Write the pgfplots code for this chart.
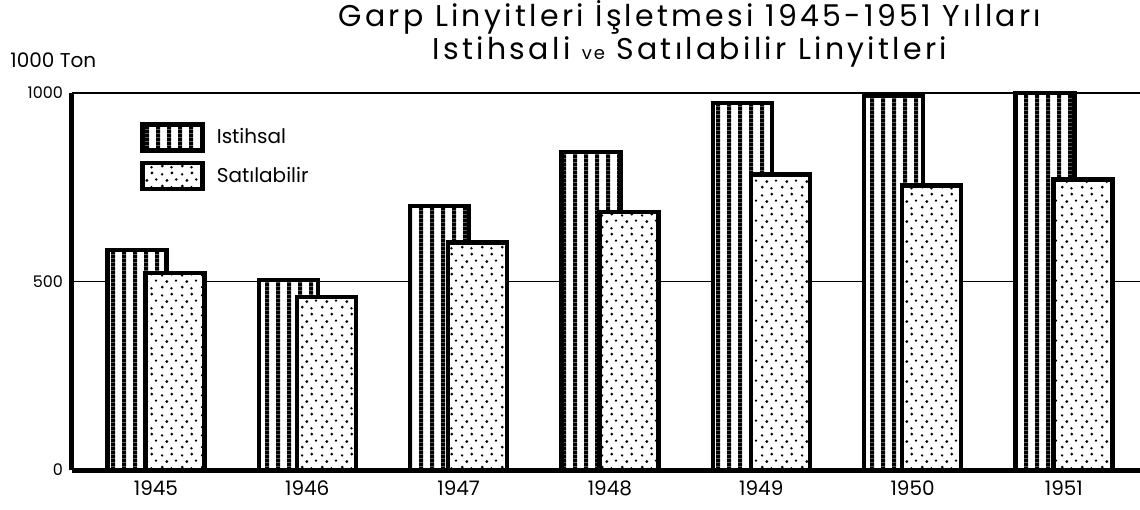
\documentclass[border=0pt]{standalone}
\usepackage{fontspec}
\setmainfont{Poppins}
\usepackage{pgfplots}
\pgfplotsset{compat=1.18}
\usetikzlibrary{patterns.meta}

% thick vertical stripes (Istihsal)
\tikzdeclarepattern{
  name=vstripes,
  type=uncolored,
  bottom left={(0pt,0pt)},
  top right={(5.6pt,2pt)},
  tile size={(5.6pt,2pt)},
  code={\fill (0pt,-0.2pt) rectangle (2.2pt,2.2pt);}
}
% scattered dots (Satilabilir)
\tikzdeclarepattern{
  name=sand,
  type=uncolored,
  bottom left={(0pt,0pt)},
  top right={(10pt,10pt)},
  tile size={(10pt,10pt)},
  code={
    \fill (1.2pt,1.5pt) circle (0.8pt);
    \fill (6.0pt,0.9pt) circle (0.7pt);
    \fill (3.6pt,4.4pt) circle (0.8pt);
    \fill (8.4pt,4.9pt) circle (0.7pt);
    \fill (1.1pt,7.6pt) circle (0.7pt);
    \fill (6.2pt,8.3pt) circle (0.8pt);
  }
}

\begin{document}
\begin{tikzpicture}
\begin{axis}[
  at={(0,0)}, anchor=south west,
  scale only axis,
  width=534pt, height=188.5pt,
  xmin=1944.445, xmax=1951.503,
  ymin=0, ymax=1000,
  axis x line=bottom, axis y line=left,
  axis line style={-, line width=2.5pt, black},
  xtick={1945,1946,1947,1948,1949,1950,1951},
  xticklabels={1945,1946,1947,1948,1949,1950,1951},
  ytick={0,500,1000},
  yticklabels={0,500,1000},
  major tick length=0pt,
  ymajorgrids,
  grid style={line width=0.8pt, black},
  xticklabel style={font=\fontsize{10}{12}\selectfont, yshift=-2pt},
  yticklabel style={font=\fontsize{8}{10}\selectfont, xshift=-1pt},
  clip=false,
  legend style={at={(0.0637,0.923)}, anchor=north west, draw=none, fill=none,
    inner sep=0pt, row sep=4pt, font=\fontsize{10}{12}\selectfont,
    nodes={inner xsep=6pt}},
  legend cell align=left,
  legend image code/.code={\draw[#1] (0pt,-6.5pt) rectangle (30pt,6.5pt);},
]
\addplot[ybar, bar width=29.5pt, bar shift=-9.5pt, draw=black, line width=2.2pt,
  preaction={fill=white}, pattern=vstripes]
  coordinates {(1945,584) (1946,504) (1947,701) (1948,843) (1949,973) (1950,992) (1951,1000)};
\addlegendentry{Istihsal}
\addplot[ybar, bar width=29.5pt, bar shift=9.5pt, draw=black, line width=2.2pt,
  preaction={fill=white}, pattern=sand]
  coordinates {(1945,523) (1946,459) (1947,603) (1948,685) (1949,784) (1950,755) (1951,771)};
\addlegendentry{Satılabilir}
\end{axis}
\node[anchor=base] at (309pt,221.5pt) {\fontsize{15}{18}\selectfont\addfontfeatures{LetterSpace=11}Garp Linyitleri İşletmesi 1945-1951 Yılları};
\node[anchor=base] at (309pt,205pt) {\fontsize{15}{18}\selectfont\addfontfeatures{LetterSpace=11}Istihsali {\fontsize{9}{10}\selectfont ve} Satılabilir Linyitleri};
\node[anchor=base west, inner sep=0pt] at (-31pt,201pt) {\fontsize{10}{12}\selectfont 1000 Ton};
\pgfresetboundingbox
\useasboundingbox (-36pt,-19.5pt) rectangle (534pt,235pt);
\end{tikzpicture}
\end{document}
